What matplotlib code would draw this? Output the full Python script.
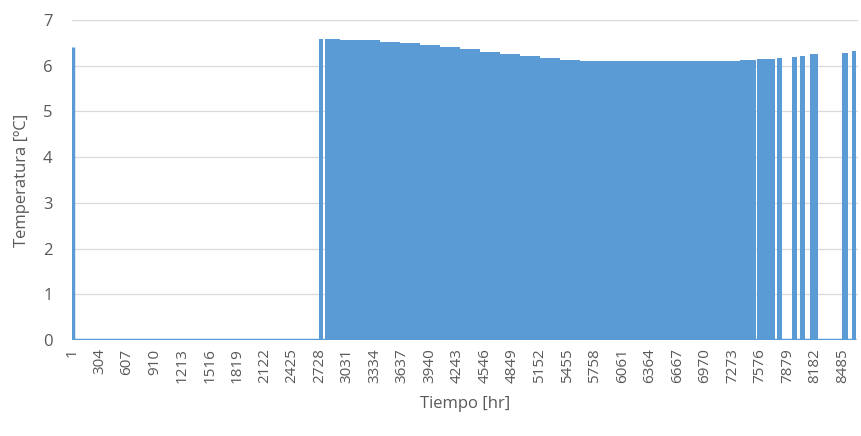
import matplotlib.pyplot as plt
import numpy as np

plt.rcParams['font.family'] = ['Open Sans', 'DejaVu Sans']

# hour where each value starts (held until next hour), and temperature in ºC
hours = [1, 2, 2725, 2768, 2785, 2950, 3170, 3390, 3610, 3830, 4050, 4270,
         4490, 4710, 4930, 5150, 5370, 5590, 5810, 6250, 6690, 7130, 7350,
         7535, 7545, 7738, 7762, 7815, 7925, 7980, 8010, 8070, 8120, 8210,
         8475, 8540, 8585, 8630]
temps = [6.41, 0, 6.58, 0, 6.58, 6.57, 6.56, 6.53, 6.50, 6.46, 6.42, 6.37,
         6.31, 6.26, 6.21, 6.17, 6.13, 6.11, 6.10, 6.10, 6.10, 6.11, 6.12,
         0, 6.14, 0, 6.16, 0, 6.20, 0, 6.22, 0, 6.26, 0,
         6.29, 0, 6.33, 0]

tick_hours = list(range(1, 8760, 303))
blue = '#5B9BD5'
grey = '#595959'

fig = plt.figure(figsize=(8.62, 4.36), dpi=100)
ax = fig.add_axes([0.0835, 0.22, 0.9115, 0.734])

ax.fill_between(hours, temps, 0, step='post', color=blue, linewidth=0)
# first hour is a single thin column
ax.vlines(hours[0] + 12, 0, temps[0], color=blue, linewidth=2.5)
ax.plot([hours[0], hours[-1]], [0, 0], color=blue, linewidth=2.5,
        solid_capstyle='butt')

ax.set_xlim(0, 8650)
ax.set_ylim(0, 7)
ax.set_yticks(range(0, 8))
ax.yaxis.grid(True, color='#d9d9d9', linewidth=0.9)
ax.set_axisbelow(True)
for s in ax.spines.values():
    s.set_visible(False)

ax.set_xticks(tick_hours)
ax.set_xticklabels([str(h) for h in tick_hours], rotation=90, fontsize=11, color=grey)
ax.tick_params(axis='x', length=0, pad=6)
ax.tick_params(axis='y', length=0, pad=14, labelsize=12, labelcolor=grey)

ax.set_xlabel('Tiempo [hr]', fontsize=12, color=grey, labelpad=9)
ax.set_ylabel('Temperatura [ºC]', fontsize=12, color=grey, labelpad=9)

fig.savefig('out.png', dpi=100)
